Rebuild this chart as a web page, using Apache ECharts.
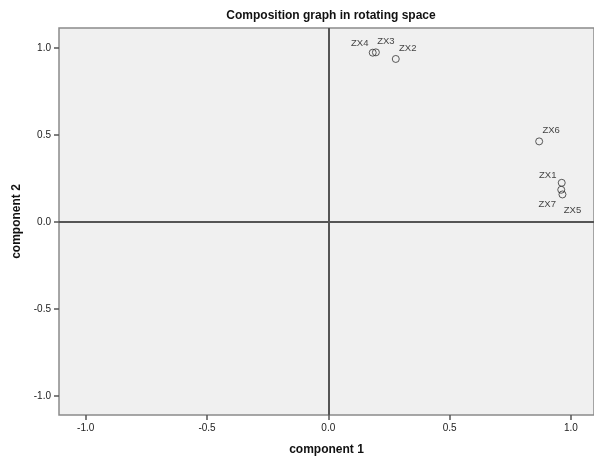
<!DOCTYPE html>
<html>
<head>
<meta charset="utf-8">
<script src="https://cdn.jsdelivr.net/npm/echarts@6/dist/echarts.min.js"></script>
<style>
  html, body { margin: 0; padding: 0; background: #fff; }
  #chart { width: 594px; height: 461px; }
</style>
</head>
<body>
<div id="chart"></div>
<script>
  // 变量名称及其在旋转空间中的载荷
  const names = ['ZX1', 'ZX2', 'ZX3', 'ZX4', 'ZX5', 'ZX6', 'ZX7'];
  const comp1 = [0.962, 0.278, 0.196, 0.183, 0.965, 0.869, 0.960];
  const comp2 = [0.225, 0.937, 0.975, 0.973, 0.158, 0.463, 0.185];
  const tickValues = [-1.0, -0.5, 0.0, 0.5, 1.0];

  // 标签偏移（像素）
  const labelOffsets = {
    ZX1: [-14, -7], ZX2: [12, -11], ZX3: [10, -11], ZX4: [-13, -9],
    ZX5: [10, 16], ZX6: [12, -11], ZX7: [-14, 15]
  };

  const chart = echarts.init(document.getElementById('chart'));
  const font = 'Liberation Sans, Arial, sans-serif';

  const axisCommon = {
    type: 'value',
    splitLine: { show: false },
    axisLine: { show: false, onZero: false },
    axisTick: { show: true, length: 5, customValues: tickValues, lineStyle: { color: '#555', width: 1.5 } },
    axisLabel: {
      customValues: tickValues,
      fontFamily: font, fontSize: 10, color: '#222',
      formatter: function (v) { return v.toFixed(1); }
    },
    nameTextStyle: { fontFamily: font, fontSize: 12, fontWeight: 'bold', color: '#111' }
  };

  const option = {
    animation: false,
    title: {
      text: 'Composition graph in rotating space',
      left: 326, top: 5, textAlign: 'center',
      textStyle: { fontFamily: font, fontSize: 12, fontWeight: 'bold', color: '#111' }
    },
    grid: {
      left: 59, top: 28, right: 0, bottom: 45,
      show: true, backgroundColor: '#f0f0f0', borderColor: '#8a8a8a', borderWidth: 1.5
    },
    xAxis: Object.assign({}, axisCommon, {
      min: -1.11, max: 1.095,
      name: 'component 1', nameLocation: 'middle', nameGap: 29,
      axisLabel: Object.assign({}, axisCommon.axisLabel, { margin: 8 })
    }),
    yAxis: Object.assign({}, axisCommon, {
      min: -1.11, max: 1.115,
      name: 'component 2', nameLocation: 'middle', nameGap: 34,
      axisLabel: Object.assign({}, axisCommon.axisLabel, { margin: 8 })
    }),
    series: [{
      type: 'scatter',
      symbol: 'circle',
      symbolSize: 7,
      itemStyle: { color: 'rgba(0,0,0,0)', borderColor: '#333', borderWidth: 1 },
      data: names.map(function (n, i) {
        return {
          name: n,
          value: [comp1[i], comp2[i]],
          label: { offset: labelOffsets[n] }
        };
      }),
      label: {
        show: true, position: 'inside',
        formatter: '{b}', fontFamily: font, fontSize: 9.5, color: '#111'
      },
      markLine: {
        silent: true, symbol: 'none', label: { show: false },
        lineStyle: { color: '#555', width: 2, type: 'solid' },
        data: [{ xAxis: 0 }, { yAxis: 0 }]
      }
    }]
  };

  chart.setOption(option);
</script>
</body>
</html>
